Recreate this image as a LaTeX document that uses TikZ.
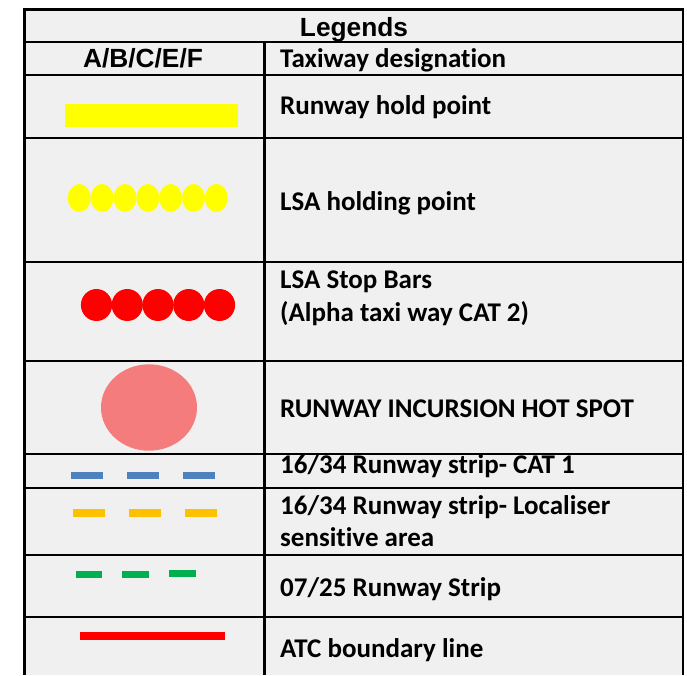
\documentclass[tikz,border=0pt]{standalone}
\usepackage{fontspec}
\setmainfont[Ligatures=NoCommon]{Carlito}
\newfontfamily\arialfont{Liberation Sans}
\definecolor{cellgray}{HTML}{F0F0F0}
\definecolor{hpyellow}{HTML}{FFFF00}
\definecolor{hpred}{HTML}{FF0000}
\definecolor{hppink}{HTML}{F57C7C}
\definecolor{hpblue}{HTML}{4F81BD}
\definecolor{hporange}{HTML}{FFC000}
\definecolor{hpgreen}{HTML}{00B050}
\tikzset{
  gridline/.style={draw=black, line width=2.2pt},
  lbl/.style={inner sep=0pt, anchor=base west, font=\bfseries\fontsize{27}{32}\selectfont},
  hdr/.style={inner sep=0pt, anchor=base, font=\arialfont\bfseries\fontsize{26.3}{32}\selectfont},
}
\begin{document}
\begin{tikzpicture}[x=1pt,y=-1pt]
\useasboundingbox (0,0) rectangle (687,675);
\fill[white] (0,0) rectangle (687,675);
\fill[cellgray] (24.5,9.5) rectangle (683.3,675);
% grid
\draw[gridline] (24.5,675) -- (24.5,9.5) -- (683.3,9.5) -- (683.3,675);
\foreach \yy in {41.8,75.2,138.3,262,360.8,454.3,488.3,555.2,616.8}
  \draw[gridline] (24.5,\yy) -- (683.3,\yy);
\draw[gridline] (264.5,41.8) -- (264.5,675);
% header texts
\node[hdr] (legends) at (354,36) {Legends};
\node[hdr] (abcef) at (143,67.5) {A/B/C/E/F};
% right column texts
\node[lbl] (t1) at (280,67) {Taxiway designation};
\node[lbl] (t2) at (280,114.5) {Runway hold point};
\node[lbl] (t3) at (280,210.5) {LSA holding point};
\node[lbl] (t4a) at (280,288.5) {LSA Stop Bars};
\node[lbl] (t4b) at (280,321) {(Alpha taxi way CAT 2)};
\node[lbl] (t5) at (280,417.5) {RUNWAY INCURSION HOT SPOT};
\node[lbl] (t6) at (280,473) {16/34 Runway strip- CAT 1};
\node[lbl] (t7a) at (280,514) {16/34 Runway strip- Localiser};
\node[lbl] (t7b) at (280,546.5) {sensitive area};
\node[lbl] (t8) at (280,596) {07/25 Runway Strip};
\node[lbl] (t9) at (280,657.5) {ATC boundary line};
% symbols
\fill[hpyellow] (65.3,104.3) rectangle (238,126.7);
\foreach \i in {0,...,6}
  \fill[hpyellow] ({79.3+22.85*\i},198) ellipse [x radius=11.4, y radius=14];
\foreach \i in {0,...,4}
  \fill[hpred] ({96.5+30.75*\i},305) ellipse [x radius=15.6, y radius=16];
\fill[hppink] (149,407.5) ellipse [x radius=48, y radius=43.2];
\foreach \xa in {70.7,126.7,182.7}
  \fill[hpblue] (\xa,471.7) rectangle ++(32,7.6);
\foreach \xa in {73.3,129.3,185.3}
  \fill[hporange] (\xa,508.7) rectangle ++(32,8);
\fill[hpgreen] (76,570.7) rectangle (102.3,577.7);
\fill[hpgreen] (122.3,570.7) rectangle (149,577.7);
\fill[hpgreen] (169,569.7) rectangle (195.7,576.7);
\fill[hpred] (80.3,632) rectangle (225,639.7);
\end{tikzpicture}
\end{document}
